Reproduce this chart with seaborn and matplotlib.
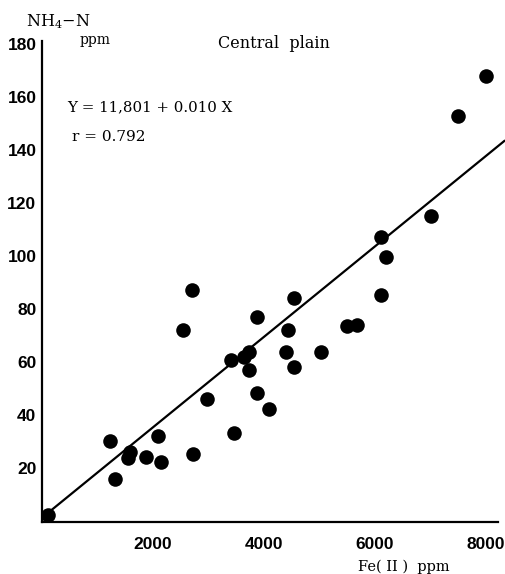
import matplotlib
matplotlib.use("Agg")
import matplotlib.pyplot as plt
import seaborn as sns
import numpy as np
import pandas as pd

# ---- data ----
fe_ppm = [100, 1230, 1320, 1590, 1555, 1880, 2100, 2150, 2730, 2550, 2710,
          2970, 3470, 3400, 3635, 3740, 3740, 3870, 3870, 4090, 4430, 4540,
          4390, 4540, 5030, 5500, 5680, 6110, 6110, 6200, 7020, 7500, 8010]
nh4_ppm = [2, 30, 15.6, 26, 23.6, 24, 32, 22, 25, 72, 87,
           46, 33, 60.8, 61.6, 63.5, 57, 77, 48.3, 42, 72, 84,
           63.5, 57.8, 63.5, 73.4, 74, 85, 107, 99.6, 115, 152.8, 167.7]

# drawn regression line (as it appears in the figure)
line_intercept = 1.1
line_slope = 0.01706
line_range = [100, 8340]

x_ticks = [1000, 2000, 3000, 4000, 5000, 6000, 7000, 8000]
x_ticklabels = ["", "2000", "", "4000", "", "6000", "", "8000"]
y_ticks = [20, 40, 60, 80, 100, 120, 140, 160, 180]

df = pd.DataFrame({"Fe": fe_ppm, "NH4": nh4_ppm})

sns.set_style("white")
plt.rcParams["mathtext.fontset"] = "dejavuserif"

W, H = 506, 574
fig = plt.figure(figsize=(W / 100, H / 100), dpi=100)
ax = fig.add_axes([42 / W, 1 - 522 / H, (498 - 42) / W, (522 - 41) / H])

sns.scatterplot(data=df, x="Fe", y="NH4", ax=ax, s=110, color="black",
                edgecolor="black", linewidth=0, clip_on=False, zorder=3)

lx = np.array(line_range)
ax.plot(lx, line_intercept + line_slope * lx, color="black", lw=1.6,
        clip_on=False, zorder=2)

ax.set_xlim(0, 8220)
ax.set_ylim(-0.5, 181)
ax.set_xlabel("")
ax.set_ylabel("")
sns.despine(ax=ax)
for s in ["left", "bottom"]:
    ax.spines[s].set_linewidth(1.6)
    ax.spines[s].set_color("black")

tick_font = dict(family="Liberation Sans", weight="bold", size=12.5)
ax.set_xticks(x_ticks)
ax.set_xticklabels(x_ticklabels, fontdict=tick_font)
ax.set_yticks(y_ticks)
ax.set_yticklabels([str(v) for v in y_ticks], fontdict=tick_font)
ax.tick_params(axis="x", direction="in", length=6, width=1.6, pad=11,
               colors="black")
ax.tick_params(axis="y", direction="in", length=6, width=1.6, pad=4,
               colors="black")


def ftext(x, y, s, size=11, **kw):
    fig.text(x / W, 1 - y / H, s, ha="left", va="center", size=size,
             family="DejaVu Serif", color="black", **kw)


ftext(26, 22, r"NH$_4$$-$N", size=11.5)
ftext(80, 40, "ppm", size=10)
ftext(218, 43, "Central  plain", size=11.5)
ftext(67, 107, "Y = 11,801 + 0.010 X", size=10.8)
ftext(72, 137, "r = 0.792", size=11)
ftext(358, 567, "Fe( II )  ppm", size=10.5)

fig.savefig("out.png", dpi=100, facecolor="white")
